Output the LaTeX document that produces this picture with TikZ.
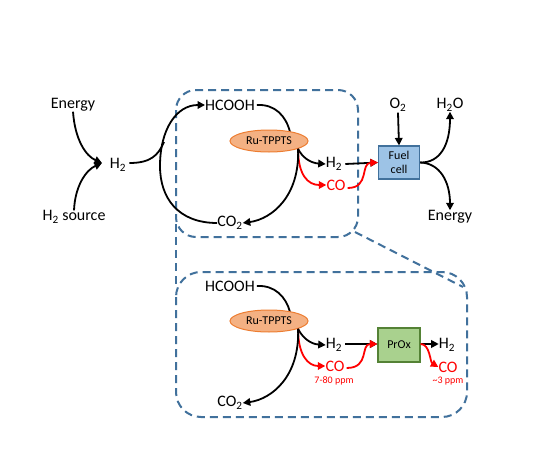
\documentclass[tikz,border=0pt]{standalone}
\usepackage{fontspec}
\setmainfont{Carlito}
\usetikzlibrary{arrows.meta,shapes.geometric}
\definecolor{dashblue}{HTML}{41719C}
\definecolor{orfill}{HTML}{F4B183}
\definecolor{ordraw}{HTML}{ED7D31}
\definecolor{bluefill}{HTML}{9DC3E6}
\definecolor{bluedraw}{HTML}{41719C}
\definecolor{greenfill}{HTML}{A9D18E}
\definecolor{greendraw}{HTML}{548235}
\definecolor{myred}{HTML}{FF0000}
\tikzset{
  lbl/.style={inner sep=0pt,font=\fontsize{16}{18}\selectfont},
  redlbl/.style={lbl,text=myred},
  ppm/.style={inner sep=0pt,font=\fontsize{10}{12}\selectfont,text=myred},
  cat/.style={ellipse,draw=ordraw,fill=orfill,line width=1pt,minimum width=78pt,minimum height=22pt,inner sep=0pt,font=\fontsize{12}{14}\selectfont},
  fcbox/.style={draw=bluedraw,fill=bluefill,line width=1.2pt,minimum width=41pt,minimum height=33pt,inner sep=0pt,align=center,font=\fontsize{12}{14}\selectfont},
  proxbox/.style={draw=greendraw,fill=greenfill,line width=1.2pt,minimum width=42pt,minimum height=34pt,inner sep=0pt,font=\fontsize{12}{14}\selectfont},
  arr/.style={line width=1.8pt,-{Triangle[length=7.5pt,width=7.5pt]}},
  plain/.style={line width=1.8pt},
  redarr/.style={arr,draw=myred},
  dbox/.style={draw=dashblue,line width=2pt,dash pattern=on 8pt off 5pt},
}
\begin{document}
\begin{tikzpicture}[x=1pt,y=-1pt]
\useasboundingbox[fill=white] (0,0) rectangle (555,466);

% dashed frames
\draw[dbox,rounded corners=20pt] (176,90) rectangle (358,237);
\draw[dbox,rounded corners=25pt] (176,272) rectangle (467,417);
\coordinate (tl1) at (176,224);
\coordinate (tl2) at (176,286);
\coordinate (tr1) at (355,232);
\coordinate (tr2) at (463,287);
\draw[dbox] (tl1) -- (tl2);
\draw[dbox] (tr1) -- (tr2);

% ---------- top ----------
\node[lbl] (energyL) at (73,105) {Energy};
\node[lbl] (h2src) at (74,217) {H\textsubscript{2} source};
\node[lbl] (h2a) at (118,165) {H\textsubscript{2}};
\node[lbl] (hcooh1) at (230,105) {HCOOH};
\node[lbl] (co2a) at (230,223) {CO\textsubscript{2}};
\node[lbl] (h2b) at (334,164) {H\textsubscript{2}};
\node[redlbl] (co1) at (336,185) {CO};
\node[lbl] (o2) at (398,105) {O\textsubscript{2}};
\node[lbl] (h2o) at (450,105) {H\textsubscript{2}O};
\node[lbl] (energyR) at (450,217) {Energy};
\node[fcbox] (fc) at (399,162.5) {Fuel\\cell};

\coordinate (join) at (102,163);
\draw[arr] (energyL.south) .. controls (75,140) and (86,156) .. (join);
\draw[arr] (h2src.north) .. controls (75,186) and (86,170) .. (join);

\coordinate (arcL) at (164,142);
\draw[plain] (h2a.east) ++(3,-2) .. controls (150,163) and (158,156) .. (arcL);
\draw[arr] (co2a.west) .. controls (178,223) and (160,198) .. (160,166)
   .. controls (160,130) and (176,105) .. (hcooh1.west);

\coordinate (hr1) at (290,132);
\draw[plain] (hcooh1.east) ++(2,0) .. controls (275,104) and (286,116) .. (hr1);
\node[cat] (ru1) at (269,141) {Ru-TPPTS};
\coordinate (o1) at (ru1.-15);
\draw[arr] (o1) .. controls (302,157) and (310,163) .. (h2b.west);
\draw[redarr] (o1) .. controls (298,175) and (308,185) .. (co1.west);
\draw[arr] (o1) .. controls (300,196) and (272,219) .. (co2a.east);

\draw[arr] (h2b.east) ++(3,0) -- (fc.west);
\draw[redarr] (co1.east) ++(2,3) .. controls (370,188) and (360,163) .. (fc.west);
\draw[arr] (o2.south) ++(0,1) -- (fc.north);
\draw[arr] (fc.east) .. controls (440,163) and (450,145) .. (h2o.south);
\draw[arr] (fc.east) .. controls (440,163) and (450,182) .. (energyR.north);

% ---------- bottom ----------
\node[lbl] (hcooh2) at (230,286) {HCOOH};
\node[lbl] (co2b) at (230,403) {CO\textsubscript{2}};
\node[lbl] (h2c) at (334,345) {H\textsubscript{2}};
\node[redlbl] (co2r) at (335,366) {CO};
\node[ppm] (ppm1) at (334,381) {7-80 ppm};
\node[proxbox] (prox) at (399,345) {PrOx};
\node[lbl] (h2d) at (447,345) {H\textsubscript{2}};
\node[redlbl] (co3) at (448,367) {CO};
\node[ppm] (ppm2) at (448,381) {\textasciitilde3 ppm};

\coordinate (hr2) at (290,312);
\draw[plain] (hcooh2.east) ++(2,0) .. controls (275,285) and (286,297) .. (hr2);
\node[cat] (ru2) at (269,321) {Ru-TPPTS};
\coordinate (o2b) at (ru2.-15);
\draw[arr] (o2b) .. controls (302,337) and (310,344) .. (h2c.west);
\draw[redarr] (o2b) .. controls (298,355) and (308,366) .. (co2r.west);
\draw[arr] (o2b) .. controls (300,376) and (272,399) .. (co2b.east);

\draw[arr] (h2c.east) ++(3,-1) -- (prox.west |- 0,344);
\draw[redarr] (co2r.east) ++(2,2) .. controls (370,368) and (360,344) .. (prox.west |- 0,344);
\draw[arr] (prox.east |- 0,344) -- (h2d.west |- 0,344);
\draw[redarr] (prox.east |- 0,344) .. controls (430,344) and (430,362) .. (co3.west);
\end{tikzpicture}
\end{document}
